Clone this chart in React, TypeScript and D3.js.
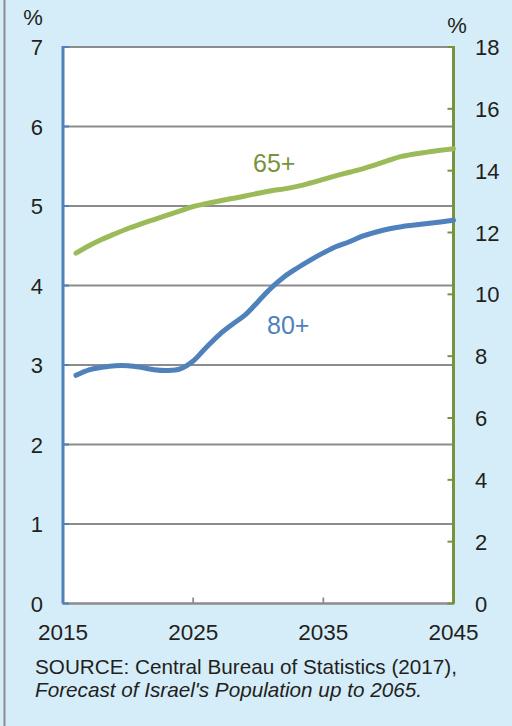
import React from "react";
import * as d3 from "d3";

// Share of the population (%) by age group, projected 2016–2045
const years = [
  2016, 2017, 2018, 2019, 2020, 2021, 2022, 2023, 2024, 2025,
  2026, 2027, 2028, 2029, 2030, 2031, 2032, 2033, 2034, 2035,
  2036, 2037, 2038, 2039, 2040, 2041, 2042, 2043, 2044, 2045,
];

// Aged 80+ (left axis)
const age80plus = [
  2.87, 2.94, 2.97, 2.99, 2.99, 2.97, 2.94, 2.93, 2.95, 3.05,
  3.22, 3.38, 3.51, 3.63, 3.8, 3.97, 4.11, 4.22, 4.32, 4.41,
  4.49, 4.55, 4.62, 4.67, 4.71, 4.74, 4.76, 4.78, 4.8, 4.82,
];

// Aged 65+ (right axis)
const age65plus = [
  11.33, 11.57, 11.78, 11.96, 12.13, 12.28, 12.42, 12.56, 12.7, 12.84,
  12.93, 13.02, 13.1, 13.18, 13.27, 13.35, 13.41, 13.49, 13.6, 13.72,
  13.84, 13.95, 14.06, 14.19, 14.33, 14.46, 14.54, 14.6, 14.66, 14.71,
];

const leftTicks = [0, 1, 2, 3, 4, 5, 6, 7];
const rightTicks = [0, 2, 4, 6, 8, 10, 12, 14, 16, 18];
const xTicks = [2015, 2025, 2035, 2045];

const W = 512;
const H = 726;
const plot = { left: 63, right: 453.5, top: 47, bottom: 603.5 };

const BLUE = "#4f81bd";
const GREEN = "#9bbb59";
const DARK_GREEN = "#77933c";
const GRID = "#8c8c8c";
const TEXT = "#231f20";
const BG = "#d5edf9";
const FONT = "'Liberation Sans', Arial, sans-serif";

export default function App() {
  const x = d3.scaleLinear().domain([2015, 2045]).range([plot.left, plot.right]);
  const yL = d3.scaleLinear().domain([0, 7]).range([plot.bottom, plot.top]);
  const yR = d3.scaleLinear().domain([0, 18]).range([plot.bottom, plot.top]);

  const line80 = d3
    .line<number>()
    .x((_, i) => x(years[i]))
    .y((d) => yL(d))
    .curve(d3.curveCatmullRom.alpha(0.5));
  const line65 = d3
    .line<number>()
    .x((_, i) => x(years[i]))
    .y((d) => yR(d))
    .curve(d3.curveCatmullRom.alpha(0.5));

  return (
    <svg
      width={W}
      height={H}
      style={{ position: "absolute", left: 0, top: 0, display: "block" }}
      fontFamily={FONT}
    >
      <rect x={0} y={0} width={W} height={H} fill={BG} />
      <line x1={4.5} x2={4.5} y1={0} y2={H} stroke={GRID} strokeWidth={2} />

      {/* plot area */}
      <rect
        x={plot.left}
        y={plot.top}
        width={plot.right - plot.left}
        height={plot.bottom - plot.top}
        fill="#ffffff"
      />

      {/* horizontal gridlines */}
      {leftTicks.map((t) => (
        <line
          key={`g${t}`}
          x1={plot.left}
          x2={plot.right}
          y1={yL(t)}
          y2={yL(t)}
          stroke={GRID}
          strokeWidth={1.8}
        />
      ))}

      {/* x axis ticks */}
      {xTicks.slice(1, -1).map((t) => (
        <line
          key={`xt${t}`}
          x1={x(t)}
          x2={x(t)}
          y1={plot.bottom}
          y2={plot.bottom - 6}
          stroke={GRID}
          strokeWidth={1.8}
        />
      ))}
      <line
        x1={plot.left - 1}
        x2={plot.right + 1}
        y1={plot.bottom}
        y2={plot.bottom}
        stroke={GRID}
        strokeWidth={1.8}
      />

      {/* left axis */}
      <line
        x1={plot.left}
        x2={plot.left}
        y1={plot.top - 1}
        y2={plot.bottom}
        stroke={BLUE}
        strokeWidth={3}
      />
      {leftTicks.map((t) => (
        <line
          key={`lt${t}`}
          x1={plot.left}
          x2={plot.left + 6}
          y1={yL(t)}
          y2={yL(t)}
          stroke={BLUE}
          strokeWidth={2}
        />
      ))}
      {leftTicks.map((t) => (
        <text
          key={`ll${t}`}
          x={43}
          y={yL(t) + 8}
          textAnchor="end"
          fontSize={22}
          fill={TEXT}
        >
          {t}
        </text>
      ))}

      {/* right axis */}
      <line
        x1={plot.right}
        x2={plot.right}
        y1={plot.top - 1}
        y2={plot.bottom}
        stroke={DARK_GREEN}
        strokeWidth={3}
      />
      {rightTicks.map((t) => (
        <line
          key={`rt${t}`}
          x1={plot.right - 6}
          x2={plot.right}
          y1={yR(t)}
          y2={yR(t)}
          stroke={DARK_GREEN}
          strokeWidth={2}
        />
      ))}
      {rightTicks.map((t) => (
        <text
          key={`rl${t}`}
          x={475}
          y={yR(t) + 8}
          textAnchor="start"
          fontSize={22}
          fill={TEXT}
        >
          {t}
        </text>
      ))}

      {/* x tick labels */}
      {xTicks.map((t) => (
        <text
          key={`xl${t}`}
          x={x(t)}
          y={640}
          textAnchor="middle"
          fontSize={22.5}
          fill={TEXT}
        >
          {t}
        </text>
      ))}

      {/* unit labels */}
      <text x={33} y={25} textAnchor="middle" fontSize={22} fill={TEXT}>
        %
      </text>
      <text x={457} y={33} textAnchor="middle" fontSize={22} fill={TEXT}>
        %
      </text>

      {/* series */}
      <path
        d={line65(age65plus) ?? ""}
        fill="none"
        stroke={GREEN}
        strokeWidth={5}
        strokeLinecap="round"
        strokeLinejoin="round"
      />
      <path
        d={line80(age80plus) ?? ""}
        fill="none"
        stroke={BLUE}
        strokeWidth={5}
        strokeLinecap="round"
        strokeLinejoin="round"
      />

      <text x={253} y={171.5} fontSize={25} fill={DARK_GREEN}>
        65+
      </text>
      <text x={267} y={334} fontSize={25} fill={BLUE}>
        80+
      </text>

      {/* source note */}
      <text x={35} y={674} fontSize={20.7} fill={TEXT}>
        SOURCE: Central Bureau of Statistics (2017),
      </text>
      <text x={35} y={697} fontSize={20.7} fontStyle="italic" fill={TEXT}>
        Forecast of Israel's Population up to 2065.
      </text>
    </svg>
  );
}
